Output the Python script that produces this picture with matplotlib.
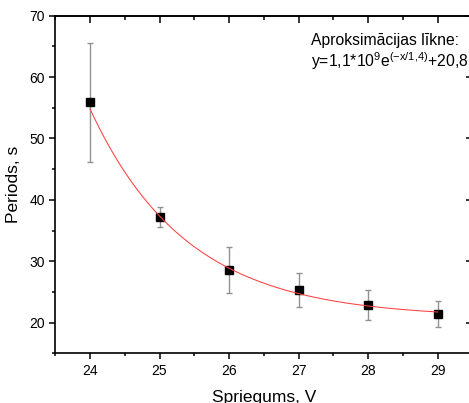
import numpy as np
import matplotlib
matplotlib.use("Agg")
import matplotlib.pyplot as plt

plt.rcParams['font.family'] = ['Liberation Sans', 'DejaVu Sans']
plt.rcParams['mathtext.fontset'] = 'custom'
plt.rcParams['mathtext.rm'] = 'Liberation Sans'
plt.rcParams['mathtext.it'] = 'Liberation Sans:italic'
plt.rcParams['mathtext.bf'] = 'Liberation Sans:bold'

# Data
voltage = [24, 25, 26, 27, 28, 29]
period = [55.9, 37.2, 28.6, 25.3, 22.8, 21.4]
period_err = [9.7, 1.65, 3.7, 2.8, 2.45, 2.05]

# Fit parameters (y = A*exp(-x/t) + y0)
fit_A = 1.1e9
fit_t = 1.388
fit_y0 = 20.8

x_ticks = [24, 25, 26, 27, 28, 29]
y_ticks = [20, 30, 40, 50, 60, 70]

W, H = 469, 403
fig = plt.figure(figsize=(W / 100, H / 100), dpi=100)
left, right, top, bottom = 55.2, 472.5, 15.7, 353.3
ax = fig.add_axes([left / W, (H - bottom) / H, (right - left) / W, (bottom - top) / H])

ax.errorbar(voltage, period, yerr=period_err, fmt='none', ecolor='#929292',
            elinewidth=1.0, capsize=2.3, capthick=1.0, zorder=2)
ax.plot(voltage, period, 's', color='black', markersize=5.4, zorder=3)

xf = np.linspace(voltage[0], voltage[-1], 300)
yf = fit_A * np.exp(-xf / fit_t) + fit_y0
ax.plot(xf, yf, color='#ff4040', linewidth=0.75, zorder=4)

ax.set_xlim(23.5, 29.5)
ax.set_ylim(15, 70)
ax.set_xticks(x_ticks)
ax.set_yticks(y_ticks)
ax.set_xticks(np.arange(23.5, 29.6, 0.5), minor=True)
ax.set_yticks(np.arange(15, 71, 5), minor=True)

for s in ax.spines.values():
    s.set_linewidth(1.2)
ax.spines['right'].set_visible(False)
ax.tick_params(axis='both', which='major', direction='out', length=4.5, width=1.1,
               labelsize=10, pad=3)
ax.tick_params(axis='both', which='minor', direction='out', length=2.4, width=1.1)

secx = ax.secondary_xaxis('top')
secx.set_xticks(x_ticks)
secx.set_xticks(np.arange(23.5, 29.6, 0.5), minor=True)
secx.tick_params(which='major', direction='in', length=5, width=1.1, labeltop=False)
secx.tick_params(which='minor', direction='in', length=2.6, width=1.1)
secx.set_xticklabels([])
secx.spines['top'].set_linewidth(1.2)

secy = ax.secondary_yaxis('right')
secy.set_yticks(y_ticks)
secy.set_yticks(np.arange(15, 71, 5), minor=True)
secy.tick_params(which='major', direction='in', length=5, width=1.1, labelright=False)
secy.tick_params(which='minor', direction='in', length=2.6, width=1.1)
secy.set_yticklabels([])
secy.spines['right'].set_visible(False)

ax.set_xlabel('Spriegums, V', fontsize=12.5, labelpad=8.5)
ax.set_ylabel('Periods, s', fontsize=12.5, labelpad=6)

ax.text(27.18, 65.2, 'Aproksimācijas līkne:', fontsize=11.3, va='baseline', ha='left')
ax.text(27.18, 61.7, r'y=1,1*10$^{9}$e$^{(-\mathrm{x}/1{,}4)}$+20,8', fontsize=11.3,
        va='baseline', ha='left')

fig.savefig('out.png', dpi=100)
